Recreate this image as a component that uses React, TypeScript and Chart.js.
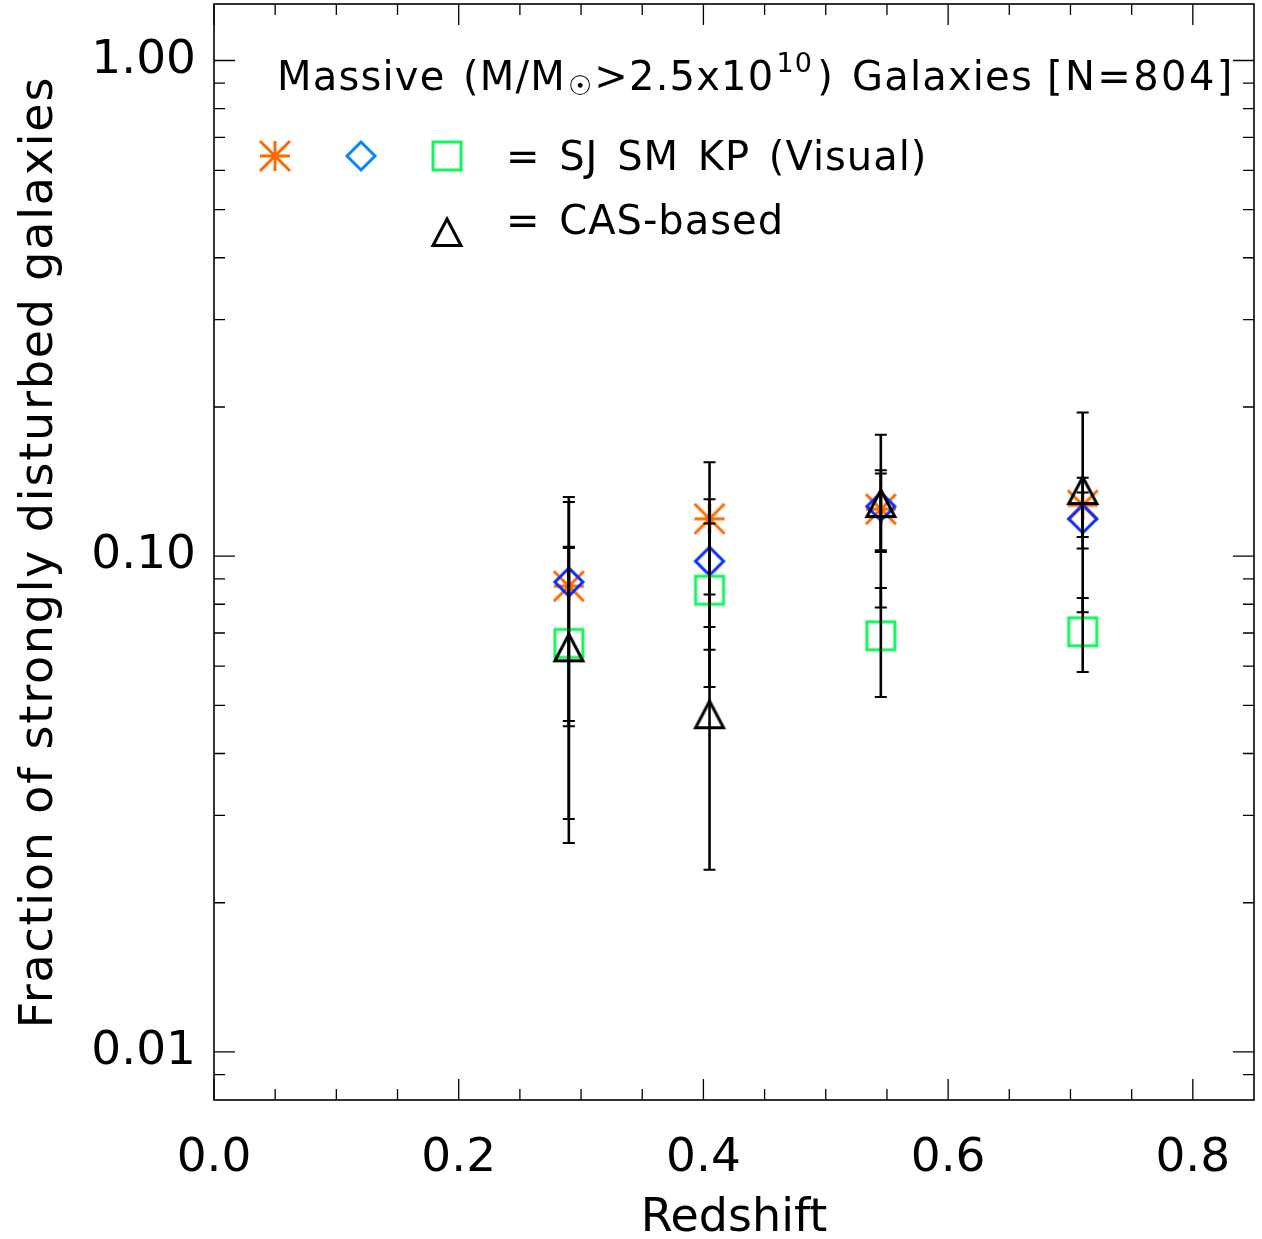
import React, { useEffect, useRef } from "react";
import { Chart, registerables } from "chart.js";

Chart.register(...registerables);

// ---- data ----
const redshift = [0.29, 0.405, 0.545, 0.71];

const sjFrac = [0.087, 0.119, 0.1244, 0.1267];
const sjLo = [0.0465, 0.0837, 0.102, 0.1094];
const sjHi = [0.1287, 0.1547, 0.1468, 0.144];

const smFrac = [0.0887, 0.0977, 0.126, 0.119];
const smLo = [0.0454, 0.0648, 0.1028, 0.1036];
const smHi = [0.1317, 0.1303, 0.1491, 0.1344];

const kpFrac = [0.0667, 0.0854, 0.0691, 0.0704];
const kpLo = [0.0295, 0.0545, 0.052, 0.0584];
const kpHi = [0.1039, 0.1164, 0.0863, 0.0824];

const casFrac = [0.0655, 0.048, 0.128, 0.136];
const casLo = [0.0264, 0.0233, 0.0788, 0.0771];
const casHi = [0.1045, 0.072, 0.1759, 0.1949];

const xTickValues = [0, 0.2, 0.4, 0.6, 0.8];
const xTickLabels = ["0.0", "0.2", "0.4", "0.6", "0.8"];
const xMinorTicks = [0.05, 0.1, 0.15, 0.25, 0.3, 0.35, 0.45, 0.5, 0.55, 0.65, 0.7, 0.75];

const yTickValues = [0.01, 0.1, 1];
const yTickLabels = ["0.01", "0.10", "1.00"];
const yMinorTicks = [
  0.009, 0.02, 0.03, 0.04, 0.05, 0.06, 0.07, 0.08, 0.09,
  0.2, 0.3, 0.4, 0.5, 0.6, 0.7, 0.8, 0.9,
];

const X_TITLE = "Redshift";
const Y_TITLE = "Fraction of strongly disturbed galaxies";

const FONT = "DejaVu Sans";
const ORANGE = "#FF6A00";
const BLUE_DATA = "#0A2CFF";
const BLUE_LEGEND = "#0A84FF";
const GREEN = "#12F55C";

type Kind = "asterisk" | "diamond" | "square" | "triangle";

function makeMarker(kind: Kind, color: string): HTMLCanvasElement {
  const c = document.createElement("canvas");
  c.width = 40;
  c.height = 40;
  const g = c.getContext("2d")!;
  g.strokeStyle = color;
  g.lineWidth = 3;
  g.lineJoin = "miter";
  const m = 20;
  g.beginPath();
  if (kind === "asterisk") {
    const r = 15;
    g.moveTo(m - r, m); g.lineTo(m + r, m);
    g.moveTo(m, m - r); g.lineTo(m, m + r);
    g.moveTo(m - r, m - r); g.lineTo(m + r, m + r);
    g.moveTo(m - r, m + r); g.lineTo(m + r, m - r);
  } else if (kind === "diamond") {
    const r = 14;
    g.moveTo(m, m - r); g.lineTo(m + r, m); g.lineTo(m, m + r); g.lineTo(m - r, m); g.closePath();
  } else if (kind === "square") {
    const r = 14;
    g.rect(m - r, m - r, 2 * r, 2 * r);
  } else {
    g.moveTo(m, m - 13); g.lineTo(m + 14, m + 13.5); g.lineTo(m - 14, m + 13.5); g.closePath();
  }
  g.stroke();
  return c;
}

function points(fr: number[], lo: number[], hi: number[]) {
  return redshift.map((x, i) => ({ x, y: fr[i], yMin: lo[i], yMax: hi[i] }));
}

export default function App() {
  const ref = useRef<HTMLCanvasElement | null>(null);

  useEffect(() => {
    document.body.style.margin = "0";
    const canvas = ref.current!;
    const mAst = makeMarker("asterisk", ORANGE);
    const mDia = makeMarker("diamond", BLUE_DATA);
    const mSq = makeMarker("square", GREEN);
    const mTri = makeMarker("triangle", "#000");
    const lAst = makeMarker("asterisk", ORANGE);
    const lDia = makeMarker("diamond", BLUE_LEGEND);
    const lSq = makeMarker("square", GREEN);
    const lTri = makeMarker("triangle", "#000");

    const decor = {
      id: "decor",
      afterDatasetsDraw(chart: any) {
        const { ctx, chartArea: a } = chart;
        const x = chart.scales.x;
        const y = chart.scales.y;
        ctx.save();
        ctx.strokeStyle = "#000";
        // error bars
        chart.data.datasets.forEach((ds: any) => {
          ds.data.forEach((p: any) => {
            const px = x.getPixelForValue(p.x);
            const y1 = y.getPixelForValue(p.yMin);
            const y2 = y.getPixelForValue(p.yMax);
            ctx.lineWidth = 2.6;
            ctx.beginPath();
            ctx.moveTo(px, y1);
            ctx.lineTo(px, y2);
            ctx.stroke();
            ctx.lineWidth = 2;
            ctx.beginPath();
            ctx.moveTo(px - 6, y1); ctx.lineTo(px + 6, y1);
            ctx.moveTo(px - 6, y2); ctx.lineTo(px + 6, y2);
            ctx.stroke();
          });
        });
        // frame
        ctx.lineWidth = 1.6;
        ctx.strokeRect(a.left, a.top, a.right - a.left, a.bottom - a.top);
        // ticks
        ctx.lineWidth = 1.3;
        ctx.beginPath();
        const xt = (v: number, len: number) => {
          const px = x.getPixelForValue(v);
          ctx.moveTo(px, a.bottom); ctx.lineTo(px, a.bottom - len);
          ctx.moveTo(px, a.top); ctx.lineTo(px, a.top + len);
        };
        const yt = (v: number, len: number) => {
          const py = y.getPixelForValue(v);
          ctx.moveTo(a.left, py); ctx.lineTo(a.left + len, py);
          ctx.moveTo(a.right, py); ctx.lineTo(a.right - len, py);
        };
        xTickValues.forEach((v) => xt(v, 21));
        xMinorTicks.forEach((v) => xt(v, 11));
        yTickValues.forEach((v) => yt(v, 21));
        yMinorTicks.forEach((v) => yt(v, 11));
        ctx.stroke();
        ctx.restore();
      },
      afterDraw(chart: any) {
        const ctx = chart.ctx as CanvasRenderingContext2D;
        const a = chart.chartArea;
        ctx.save();
        ctx.fillStyle = "#000";
        // axis titles
        ctx.textAlign = "center";
        ctx.textBaseline = "alphabetic";
        ctx.font = `46px "${FONT}"`;
        (ctx as any).letterSpacing = "0px";
        ctx.fillText(X_TITLE, (a.left + a.right) / 2, 1231);
        ctx.save();
        ctx.translate(52, (a.top + a.bottom) / 2);
        ctx.rotate(-Math.PI / 2);
        (ctx as any).letterSpacing = "1.8px";
        ctx.fillText(Y_TITLE, 0, 0);
        ctx.restore();

        ctx.textAlign = "left";
        const main = `40px "${FONT}"`;
        const small = `27px "${FONT}"`;
        // title line
        const base1 = 90;
        (ctx as any).letterSpacing = "1.2px";
        ctx.font = main;
        ctx.fillText("Massive", 277, base1);
        let cx = 463;
        ctx.fillText("(M/M", cx, base1);
        cx += ctx.measureText("(M/M").width + 2;
        ctx.font = small;
        ctx.fillText("\u2609", cx, base1 + 5);
        cx += ctx.measureText("\u2609").width + 1;
        ctx.font = main;
        ctx.fillText(">2.5x10", cx, base1);
        cx += ctx.measureText(">2.5x10").width + 2;
        ctx.font = small;
        ctx.fillText("10", cx, base1 - 18);
        cx += ctx.measureText("10").width + 4;
        ctx.font = main;
        ctx.fillText(")", cx, base1);
        ctx.fillText("Galaxies", 852, base1);
        (ctx as any).letterSpacing = "2.4px";
        ctx.fillText("[N=804]", 1047, base1);
        // legend lines
        (ctx as any).letterSpacing = "1px";
        (ctx as any).wordSpacing = "5px";
        ctx.fillText("= SJ SM KP (Visual)", 506, 170);
        ctx.fillText("= CAS-based", 506, 234);
        (ctx as any).wordSpacing = "0px";
        (ctx as any).letterSpacing = "0px";
        const put = (img: HTMLCanvasElement, px: number, py: number) =>
          ctx.drawImage(img, px - img.width / 2, py - img.height / 2);
        put(lAst, 275, 156);
        put(lDia, 361, 156);
        put(lSq, 447, 156);
        put(lTri, 447, 232);
        ctx.restore();
      },
    };

    const chart = new Chart(canvas, {
      type: "scatter",
      data: {
        datasets: [
          { label: "SJ", data: points(sjFrac, sjLo, sjHi), pointStyle: mAst, pointRadius: 10, order: 3 },
          { label: "SM", data: points(smFrac, smLo, smHi), pointStyle: mDia, pointRadius: 10, order: 2 },
          { label: "KP", data: points(kpFrac, kpLo, kpHi), pointStyle: mSq, pointRadius: 10, order: 1 },
          { label: "CAS", data: points(casFrac, casLo, casHi), pointStyle: mTri, pointRadius: 10, order: 0 },
        ] as any,
      },
      options: {
        responsive: false,
        maintainAspectRatio: false,
        animation: false,
        events: [],
        layout: { autoPadding: false, padding: { top: 4, right: 8, left: 0, bottom: 0 } },
        plugins: { legend: { display: false }, tooltip: { enabled: false } },
        scales: {
          x: {
            type: "linear",
            min: 0,
            max: 0.85,
            afterBuildTicks: (s: any) => {
              s.ticks = xTickValues.map((value) => ({ value }));
            },
            afterFit: (s: any) => {
              s.height = 139;
              s.paddingLeft = 0;
              s.paddingRight = 0;
            },
            ticks: {
              autoSkip: false,
              maxRotation: 0,
              padding: 31,
              color: "#000",
              font: { family: FONT, size: 47 },
              callback: (_v: any, i: number) => xTickLabels[i],
            },
            grid: { display: false, drawTicks: false },
            border: { display: false },
          },
          y: {
            type: "logarithmic",
            min: 0.008,
            max: 1.3,
            afterBuildTicks: (s: any) => {
              s.ticks = yTickValues.map((value) => ({ value }));
            },
            afterFit: (s: any) => {
              s.width = 214;
              s.paddingTop = 0;
              s.paddingBottom = 0;
            },
            ticks: {
              autoSkip: false,
              padding: 18,
              color: "#000",
              font: { family: FONT, size: 47 },
              callback: (_v: any, i: number) => yTickLabels[i],
            },
            grid: { display: false, drawTicks: false },
            border: { display: false },
          },
        },
      },
      plugins: [decor as any],
    });
    return () => chart.destroy();
  }, []);

  return (
    <div style={{ width: 1262, height: 1239 }}>
      <canvas ref={ref} width={1262} height={1239} style={{ display: "block" }} />
    </div>
  );
}
